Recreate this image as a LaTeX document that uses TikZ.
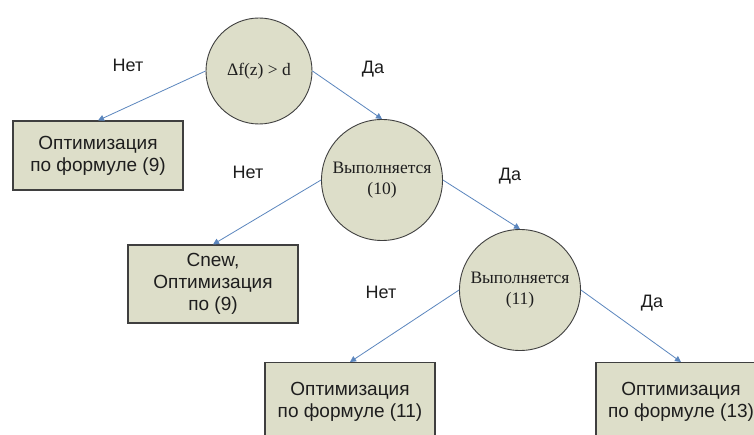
\documentclass[tikz,border=0pt]{standalone}
\usepackage{fontspec}
\setmainfont{Liberation Sans}
\newfontfamily\serifcirc{Liberation Serif}
\usetikzlibrary{arrows.meta}
\definecolor{boxfill}{HTML}{DDDEC9}
\definecolor{edgecol}{HTML}{3F3F3F}
\definecolor{arrcol}{HTML}{5B86BE}
\definecolor{txtcol}{HTML}{1E1E1E}
\tikzset{
  decision/.style={circle,draw=edgecol,line width=0.9pt,fill=boxfill,inner sep=0pt,text=txtcol,
    font=\serifcirc\fontsize{17.5}{21}\selectfont,align=center},
  action/.style={rectangle,draw=edgecol,line width=1.1pt,fill=boxfill,text=txtcol,
    minimum width=170pt,align=center,font=\fontsize{19}{22}\selectfont},
  lbl/.style={font=\fontsize{18}{22}\selectfont,inner sep=0pt,text=txtcol},
  link/.style={draw=arrcol,line width=0.8pt,-{Triangle[width=6pt,length=6pt]}}
}
\begin{document}
\begin{tikzpicture}[x=1pt,y=-1pt]
\useasboundingbox (0,0) rectangle (754,435);
\clip (0,0) rectangle (754,435);
\fill[white] (0,0) rectangle (754,435);
% decisions
\node[decision,minimum size=106pt] (d1) at (259,71) {Δf(z) > d};
\node[decision,minimum size=121pt] (d2) at (382,180) {Выполняется\\(10)};
\node[decision,minimum size=121pt] (d3) at (520,290) {Выполняется\\(11)};
% actions
\node[action,minimum height=69pt] (b1) at (98,155.5) {Оптимизация\\по формуле (9)};
\node[action,minimum height=78pt] (b2) at (213,284) {Cnew,\\Оптимизация\\по (9)};
\node[action,minimum height=78pt,anchor=north] (b3) at (350,362) {Оптимизация\\по формуле (11)};
\node[action,minimum height=78pt,anchor=north] (b4) at (681,362) {Оптимизация\\по формуле (13)};
% links
\draw[link] (d1.west) -- (b1.north);
\draw[link] (d1.east) -- (d2.north);
\draw[link] (d2.west) -- (b2.north);
\draw[link] (d2.east) -- (d3.north);
\draw[link] (d3.west) -- (b3.north);
\draw[link] (d3.east) -- (b4.north);
% labels
\node[lbl] (l1) at (128,65) {Нет};
\node[lbl] (l2) at (373,69) {Да};
\node[lbl] (l3) at (248,172) {Нет};
\node[lbl] (l4) at (510,176) {Да};
\node[lbl] (l5) at (381,292) {Нет};
\node[lbl] (l6) at (652,303) {Да};
\end{tikzpicture}
\end{document}
